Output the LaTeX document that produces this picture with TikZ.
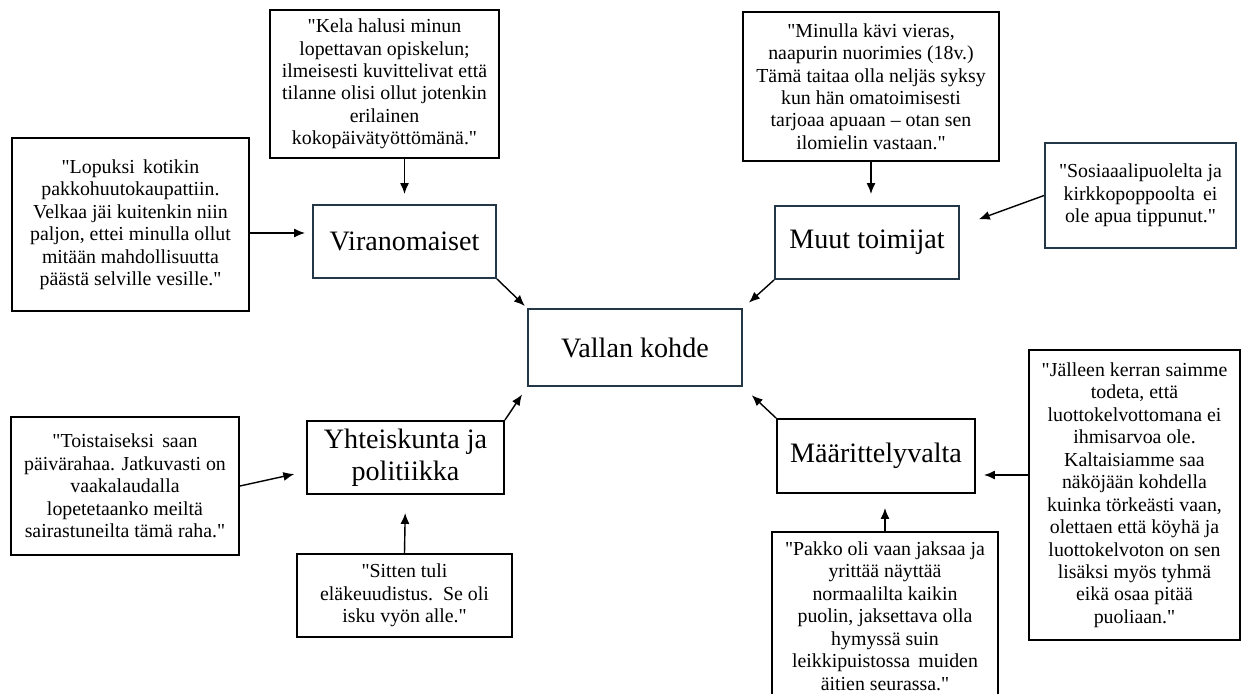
\documentclass[tikz,border=0pt]{standalone}
\usepackage{fontspec}
\setmainfont{Liberation Serif}[Ligatures=TeXOff]
\usetikzlibrary{arrows.meta,calc}
\definecolor{boxline}{RGB}{35,55,70}

\begin{document}
\begin{tikzpicture}[x=0.02cm,y=-0.02cm]
    \tikzstyle{every node}+=[inner sep=0pt]
    \tikzstyle{mainbox}=[draw=boxline, line width=1.1pt, align=center, font=\fontsize{16}{18.5}\selectfont]
    \tikzstyle{quote}=[draw=black, line width=1.1pt, align=center, font=\fontsize{11.3}{12.8}\selectfont]
    \tikzstyle{arr}=[-{Latex[length=2.2mm,width=1.8mm]}, line width=0.8pt]
    \useasboundingbox (0,0) rectangle (1244,693);
    \node [mainbox, minimum width=4.28cm, minimum height=1.54cm] (vallan) at (635,347.5) {Vallan kohde};
    \node [mainbox, minimum width=3.66cm, minimum height=1.46cm] (viranomaiset) at (404.5,241.5) {Viranomaiset};
    \node [mainbox, minimum width=3.68cm, minimum height=1.46cm] (muut) at (867,242.5) {Muut toimijat};
    \node [mainbox, draw=black, minimum width=3.94cm, minimum height=1.46cm] (yhteiskunta) at (405.5,457.5) {Yhteiskunta ja\\politiikka};
    \node [mainbox, draw=black, minimum width=3.96cm, minimum height=1.48cm] (maarittely) at (876,456) {Määrittelyvalta};
    \node [quote, minimum width=4.74cm, minimum height=3.46cm] (lopuksi) at (130.5,224.5)
        {"Lopuksi\, kotikin\\pakkohuutokaupattiin.\\Velkaa jäi kuitenkin niin\\paljon, ettei minulla ollut\\mitään mahdollisuutta\\päästä selville vesille."};
    \node [quote, minimum width=4.58cm, minimum height=2.96cm] (kela) at (384.5,84)
        {"Kela halusi minun\\lopettavan opiskelun;\\ilmeisesti kuvittelivat että\\tilanne olisi ollut jotenkin\\erilainen\\kokopäivätyöttömänä."};
    \node [quote, minimum width=5.12cm, minimum height=2.98cm] (minulla) at (871,86.5)
        {"Minulla kävi vieras,\\naapurin nuorimies (18v.)\\Tämä taitaa olla neljäs syksy\\kun hän omatoimisesti\\tarjoaa apuaan – otan sen\\ilomielin vastaan."};
    \node [quote, draw=boxline, minimum width=3.82cm, minimum height=2.1cm] (sosiaali) at (1140.5,195.5)
        {"Sosiaaalipuolelta ja\\kirkkopoppoolta\, ei\\ole apua tippunut."};
    \node [quote, minimum width=4.56cm, minimum height=2.76cm] (toistaiseksi) at (125,486)
        {"Toistaiseksi\, saan\\päivärahaa. Jatkuvasti on\\vaakalaudalla\\lopetetaanko meiltä\\sairastuneilta tämä raha."};
    \node [quote, minimum width=4.3cm, minimum height=1.66cm] (sitten) at (404.5,595.5)
        {"Sitten tuli\\eläkeuudistus.\, Se oli\\isku vyön alle."};
    \node [quote, minimum width=4.22cm, minimum height=5.8cm] (jalleen) at (1134.5,495)
        {"Jälleen kerran saimme\\todeta, että\\luottokelvottomana ei\\ihmisarvoa ole.\\Kaltaisiamme saa\\näköjään kohdella\\kuinka törkeästi vaan,\\olettaen että köyhä ja\\luottokelvoton on sen\\lisäksi myös tyhmä\\eikä osaa pitää\\puoliaan."};
    \node [quote, minimum width=4.52cm, minimum height=3.36cm] (pakko) at (885,616)
        {"Pakko oli vaan jaksaa ja\\yrittää näyttää\\normaalilta kaikin\\puolin, jaksettava olla\\hymyssä suin\\leikkipuistossa\, muiden\\äitien seurassa."};
    \coordinate (vtip) at ($(viranomaiset.west)+(-7,-8.5)$);
    \coordinate (mtip) at ($(maarittely.east)+(8,19)$);
    \draw [arr] (lopuksi.east |- vtip) -- (vtip);
    \draw [arr, shorten >=0.2cm] (kela.south -| viranomaiset.north) -- (viranomaiset.north);
    \draw [arr, shorten >=0.06cm] (viranomaiset.south east) -- (vallan.north west);
    \draw [arr, shorten >=0.22cm] (minulla.south) -- (minulla.south |- muut.north);
    \draw [arr, shorten >=0.4cm] (sosiaali.west) -- (muut.10);
    \draw [arr, shorten >=0.16cm] (muut.south west) -- (vallan.north east);
    \draw [arr] (jalleen.west |- mtip) -- (mtip);
    \draw [arr, shorten >=0.28cm] (pakko.north) -- (pakko.north |- maarittely.south);
    \draw [arr, shorten >=0.24cm] (maarittely.north west) -- (vallan.south east);
    \draw [arr, shorten >=0.18cm] (yhteiskunta.north east) -- (vallan.south west);
    \draw [arr, shorten >=0.24cm] (toistaiseksi.east) -- (yhteiskunta.188);
    \draw [arr, shorten >=0.36cm] (sitten.north) -- (yhteiskunta.south);
\end{tikzpicture}
\end{document}
